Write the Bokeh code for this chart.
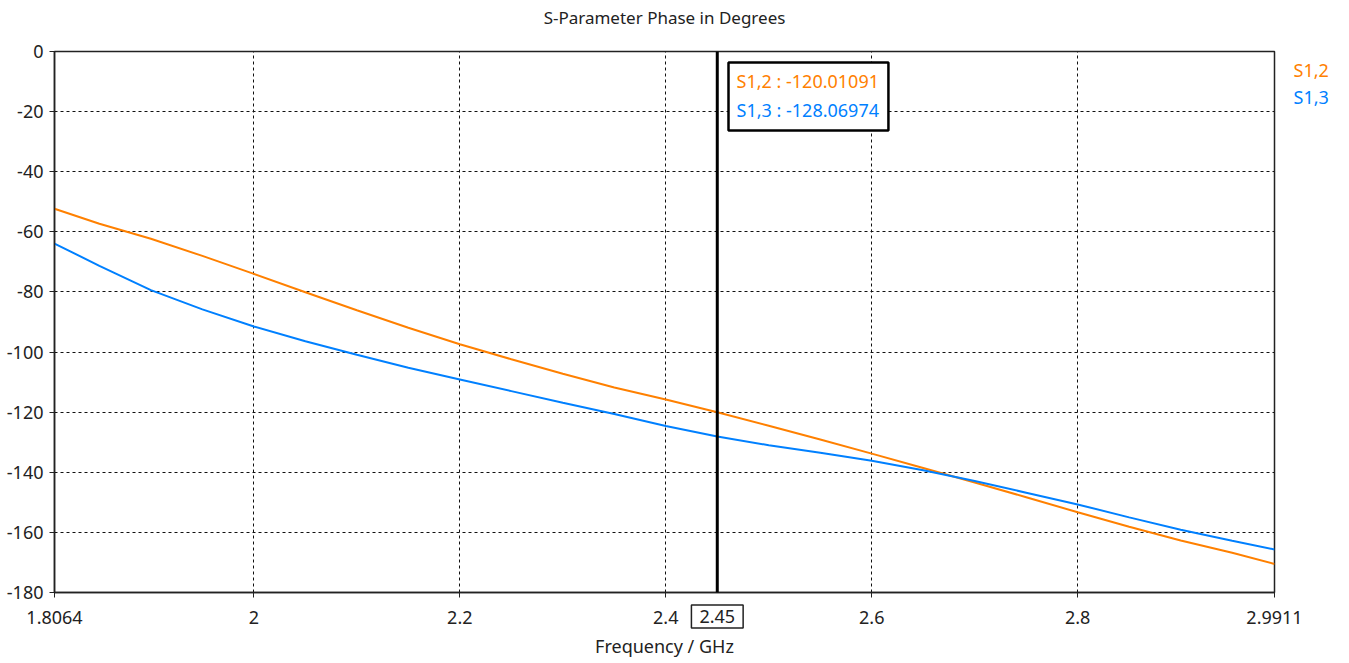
from bokeh.plotting import figure
from bokeh.models import FixedTicker, Span, Label, BoxAnnotation, ColumnDataSource
from bokeh.embed import file_html
from bokeh.resources import INLINE

# Frequency sweep (GHz) and phase of the two transmission parameters (degrees)
freq = [1.8064, 1.85, 1.9, 1.95, 2.0, 2.05, 2.1, 2.15, 2.2, 2.25, 2.3, 2.35, 2.4,
        2.45, 2.5, 2.55, 2.6, 2.65, 2.7, 2.75, 2.8, 2.85, 2.9, 2.95, 2.9911]
s12_phase = [-52.3, -57.3, -62.3, -68.0, -74.0, -80.1, -86.1, -91.9, -97.4, -102.4,
             -107.2, -111.8, -115.8, -120.01091, -124.5, -129.1, -133.8, -138.6,
             -143.4, -148.3, -153.3, -158.1, -162.7, -166.8, -170.5]
s13_phase = [-63.9, -71.3, -79.4, -85.8, -91.5, -96.4, -100.9, -105.2, -109.1, -113.0,
             -116.9, -120.6, -124.6, -128.06974, -131.0, -133.5, -136.2, -139.3,
             -142.9, -146.8, -150.7, -155.0, -159.1, -162.8, -165.7]

series_names = ["S1,2", "S1,3"]
series_colors = ["#ff8000", "#0080ff"]

x_ticks = [1.8064, 2, 2.2, 2.4, 2.6, 2.8, 2.9911]
x_tick_labels = ["1.8064", "2", "2.2", "2.4", "2.6", "2.8", "2.9911"]
x_grid = [2, 2.2, 2.4, 2.6, 2.8]
y_ticks = list(range(-180, 1, 20))
y_tick_labels = [str(t) for t in y_ticks]
marker_freq = 2.45
title_text = "S-Parameter Phase in Degrees"

FONT = "Noto Sans"
INK = "#222222"

p = figure(width=1349, height=663, output_backend="svg", toolbar_location=None,
           x_range=(freq[0], freq[-1]), y_range=(-180, 0),
           min_border_left=54, min_border_right=75, min_border_top=51,
           min_border_bottom=71)

p.outline_line_color = INK
p.outline_line_width = 1.5

# axes
for ax in (p.xaxis[0], p.yaxis[0]):
    ax.axis_line_color = INK
    ax.axis_line_width = 1.5
    ax.major_tick_in = 0
    ax.major_tick_out = 5
    ax.major_tick_line_color = INK
    ax.minor_tick_line_color = None
    ax.major_label_text_font = FONT
    ax.major_label_text_font_size = "18px"
    ax.major_label_text_color = INK

p.xaxis.ticker = FixedTicker(ticks=x_ticks)
p.xaxis.major_label_overrides = dict(zip(x_ticks, x_tick_labels))
p.xaxis.major_label_standoff = 13
p.xaxis.axis_label = "Frequency / GHz"
p.xaxis.axis_label_text_font = FONT
p.xaxis.axis_label_text_font_size = "18px"
p.xaxis.axis_label_text_font_style = "normal"
p.xaxis.axis_label_text_color = INK
p.xaxis.axis_label_standoff = 7

p.yaxis.ticker = FixedTicker(ticks=y_ticks)
p.yaxis.major_label_overrides = dict(zip(y_ticks, y_tick_labels))
p.yaxis.major_label_standoff = 6

# dashed grid
p.xgrid.ticker = FixedTicker(ticks=x_grid)
p.ygrid.ticker = FixedTicker(ticks=y_ticks[1:-1])
for g in (p.xgrid[0], p.ygrid[0]):
    g.grid_line_color = "#111111"
    g.grid_line_dash = "3 3"
    g.grid_line_width = 1

src = ColumnDataSource(dict(f=freq, s12=s12_phase, s13=s13_phase))
p.line("f", "s12", source=src, line_color=series_colors[0], line_width=2)
p.line("f", "s13", source=src, line_color=series_colors[1], line_width=2)

# marker line at the design frequency
p.add_layout(Span(location=marker_freq, dimension="height", line_color="black",
                  line_width=3))

# readout box next to the marker
idx = freq.index(marker_freq)
readouts = [s12_phase[idx], s13_phase[idx]]
p.add_layout(BoxAnnotation(left=marker_freq + 0.0109, right=marker_freq + 0.1662,
                           top=-3.7, bottom=-26.3, fill_color="white", fill_alpha=1,
                           line_color="black", line_alpha=1, line_width=2.5))
for i, (name, val, col) in enumerate(zip(series_names, readouts, series_colors)):
    p.add_layout(Label(x=marker_freq + 0.0187, y=-9.8 - i * 9.6,
                       text=f"{name} : {val:.5f}", text_color=col,
                       text_font=FONT, text_font_size="18px",
                       text_baseline="middle", text_align="left"))

# texts outside the frame live in the side panels so they are not clipped
x_mid = (freq[0] + freq[-1]) / 2
p.add_layout(Label(x=x_mid, y=11.3, text=title_text, text_font=FONT,
                   text_font_size="17px", text_color=INK, text_line_height=1.0,
                   text_align="center", text_baseline="middle"), "above")

p.add_layout(Label(x=marker_freq, y=-188.0, text=f"{marker_freq:g}",
                   text_font=FONT, text_font_size="18px", text_color=INK,
                   text_line_height=1.0, text_align="center", text_baseline="middle",
                   border_line_color=INK, border_line_width=1.5,
                   background_fill_color="white", padding=(8, 5)), "above")

for i, (name, col) in enumerate(zip(series_names, series_colors)):
    p.add_layout(Label(x=freq[-1] + 0.0185, y=-6.0 - i * 9.3, text=name,
                       text_color=col, text_font=FONT, text_font_size="18px",
                       text_line_height=1.0, text_baseline="middle",
                       text_align="left"), "right")

open("out.html", "w").write(file_html(p, INLINE))
